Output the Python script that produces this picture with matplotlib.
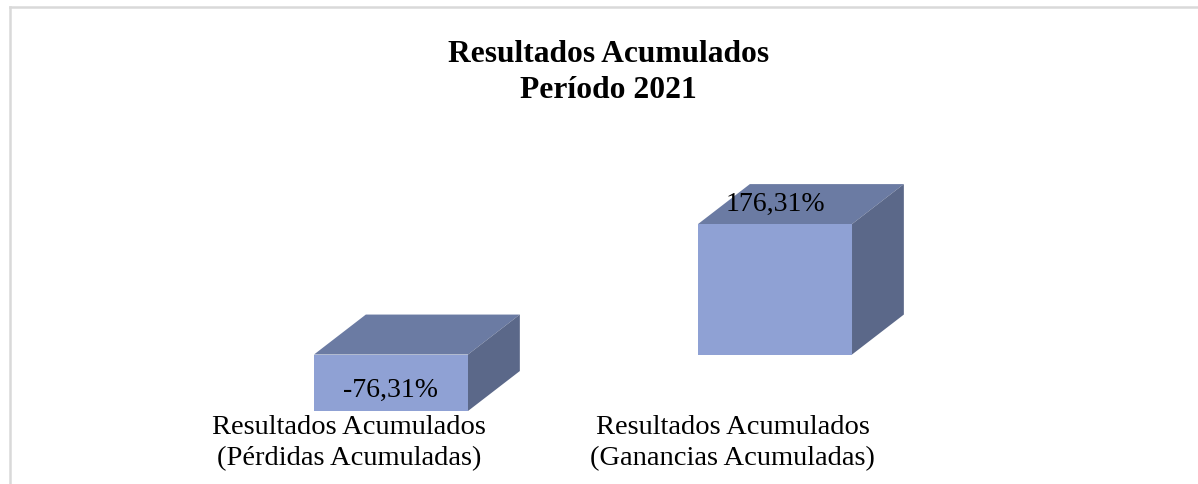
import matplotlib.pyplot as plt
from matplotlib.patches import Polygon
from matplotlib.lines import Line2D

plt.rcParams['font.family'] = ['Liberation Serif', 'DejaVu Serif']

# Datos del grafico
categorias = ['Resultados Acumulados\n(Pérdidas Acumuladas)',
              'Resultados Acumulados\n(Ganancias Acumuladas)']
valores = [-76.31, 176.31]
etiquetas = ['-76,31%', '176,31%']

# Estilo de las barras 3D
ancho = 0.401
prof_x = 0.135
prof_y = 54
c_frente = '#8fa1d4'
c_arriba = '#6b7ba3'
c_lado = '#5b6889'

fig = plt.figure(figsize=(11.98, 4.85), dpi=100)
ax = fig.add_axes([0.1661, 0.1144, 0.6411, 0.534])

for i, v in enumerate(valores):
    x0 = i - ancho / 2
    x1 = i + ancho / 2
    arriba = max(0, v)
    abajo = min(0, v)
    ax.bar(i, v, width=ancho, color=c_frente, zorder=3)
    cara_sup = [(x0, arriba), (x1, arriba), (x1 + prof_x, arriba + prof_y), (x0 + prof_x, arriba + prof_y)]
    cara_lat = [(x1, abajo), (x1, arriba), (x1 + prof_x, arriba + prof_y), (x1 + prof_x, abajo + prof_y)]
    ax.add_patch(Polygon(cara_sup, closed=True, facecolor=c_arriba, edgecolor='none', zorder=2))
    ax.add_patch(Polygon(cara_lat, closed=True, facecolor=c_lado, edgecolor='none', zorder=2))
    # etiqueta del valor
    if v < 0:
        y_et = v * 0.58 - 3
    else:
        y_et = v + prof_y * 0.57 - 3
    ax.text(i, y_et, etiquetas[i], ha='center', va='center', fontsize=20, zorder=5)
    # etiqueta de la categoria
    ax.text(i - 0.11, -118, categorias[i], ha='center', va='center', fontsize=20.5,
            linespacing=1.31, clip_on=False, zorder=6)

ax.set_xlim(-0.5, 1.5)
ax.set_ylim(-100, 250)
ax.axis('off')

fig.text(0.508, 1 - 55 / 485, 'Resultados Acumulados', ha='center', va='center',
         fontsize=22.7, fontweight='bold')
fig.text(0.508, 1 - 90 / 485, 'Período 2021', ha='center', va='center',
         fontsize=22.7, fontweight='bold')

# Marco del grafico
fig.add_artist(Line2D([9.5 / 1198, 9.5 / 1198], [0, 1 - 7.5 / 485], color='#d9d9d9', lw=1.8))
fig.add_artist(Line2D([9.5 / 1198, 1], [1 - 7.5 / 485, 1 - 7.5 / 485], color='#d9d9d9', lw=1.8))

fig.savefig('out.png', dpi=100)
